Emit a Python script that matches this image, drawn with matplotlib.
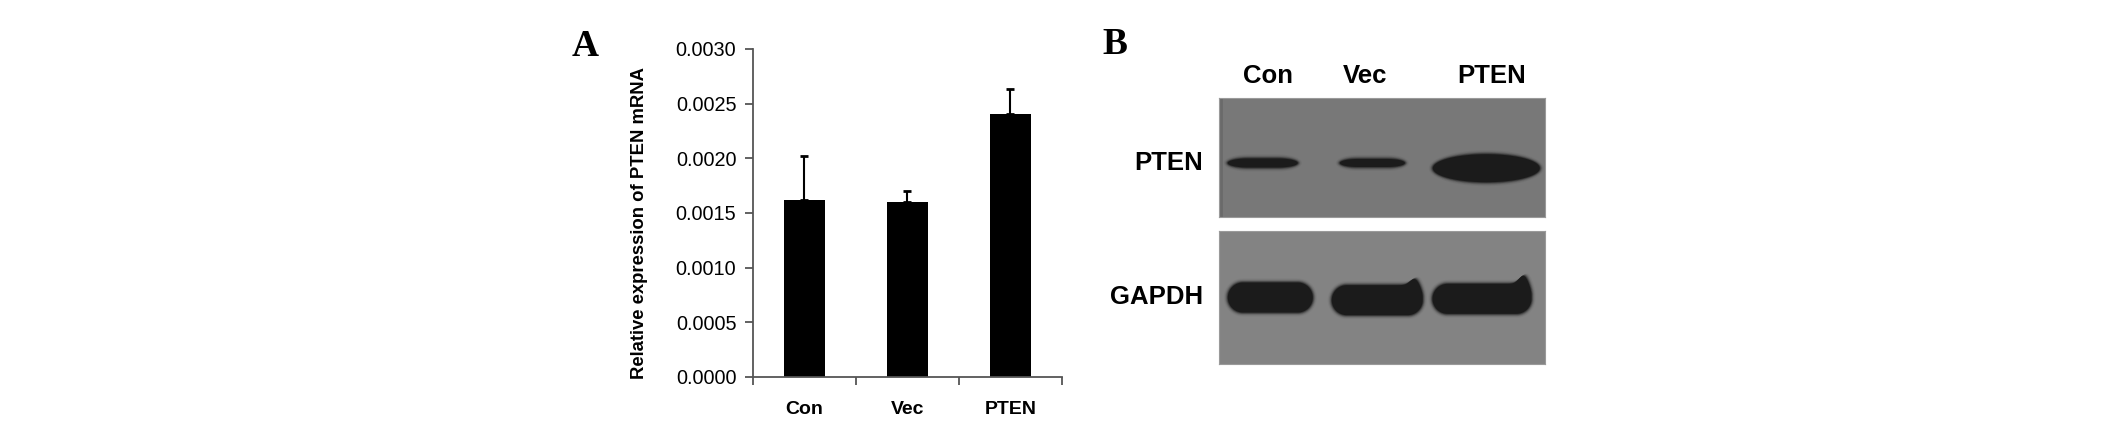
import numpy as np
import matplotlib.pyplot as plt
from matplotlib.patches import Polygon

# -------------------------------
# Data
# -------------------------------
groups = ["Con", "Vec", "PTEN"]
mrna_mean = [0.00162, 0.00160, 0.00241]
mrna_err = [0.00040, 0.00010, 0.00022]
yticks = [0.0, 0.0005, 0.0010, 0.0015, 0.0020, 0.0025, 0.0030]

blot_lanes = ["Con", "Vec", "PTEN"]
blot_rows = ["PTEN", "GAPDH"]
# band size per lane in pixels (width, height)
pten_band_w = [70, 65, 107]
pten_band_h = [9, 8, 28]
gapdh_band_w = [85, 91, 99]
gapdh_band_h = [30, 30, 30]
gapdh_tip = [0, 8, 10]

plt.rcParams['font.family'] = ['Liberation Sans', 'DejaVu Sans']

W, H = 2126, 429
fig = plt.figure(figsize=(W / 100, H / 100), dpi=100)


def fx(px):
    return px / W


def fy(py):
    return 1 - py / H


# -------------------------------
# Panel A: bar chart
# -------------------------------
ax = fig.add_axes([fx(753), fy(377), fx(1061.7 - 753), (377 - 49) / H])
x = np.arange(len(groups)) + 0.5
ax.bar(x, mrna_mean, width=0.4, color="black", zorder=2)
ax.errorbar(x, mrna_mean, yerr=[np.zeros(3), mrna_err], fmt="none",
            ecolor="black", elinewidth=1.5, capsize=3, capthick=2, zorder=1)

ax.set_xlim(0, 3)
ax.set_ylim(0, 0.003)
ax.set_yticks(yticks)
ax.set_yticklabels([f"{v:.4f}" for v in yticks], fontsize=14.3)
ax.set_xticks([0, 1, 2, 3])
ax.set_xticklabels([])
for xi, g in zip(x, groups):
    ax.text(xi, -0.1, g, transform=ax.get_xaxis_transform(), ha="center",
            va="center", fontsize=14, fontweight="bold")

for s in ["top", "right"]:
    ax.spines[s].set_visible(False)
for s in ["left", "bottom"]:
    ax.spines[s].set_color("#555555")
    ax.spines[s].set_linewidth(1.3)
ax.tick_params(axis="both", direction="out", length=6, width=1.3,
               color="#555555", pad=6)

fig.text(fx(639), fy(223), "Relative expression of PTEN mRNA", rotation=90,
         ha="center", va="center", fontsize=13.3, fontweight="bold")
fig.text(fx(585), fy(46), "A", ha="center", va="center", fontsize=27,
         fontweight="bold", family="Liberation Serif")

# -------------------------------
# Panel B: western blot
# -------------------------------
fig.text(fx(1115), fy(45), "B", ha="center", va="center", fontsize=27,
         fontweight="bold", family="Liberation Serif")

lane_px = 108.0
lane0 = 1266.0
xl = ((1219 - lane0) / lane_px, (1545 - lane0) / lane_px)

ax_top = fig.add_axes([fx(1219), fy(217), fx(326), (217 - 98) / H])
ax_bot = fig.add_axes([fx(1219), fy(364), fx(326), (364 - 231) / H])

bg_top, bg_bot = 120, 131
for a, g in [(ax_top, bg_top), (ax_bot, bg_bot)]:
    a.set_xlim(*xl)
    a.set_ylim(0, 1)
    a.set_facecolor(str(g / 255))
    a.set_xticks([])
    a.set_yticks([])
    for s in a.spines.values():
        s.set_color("#9a9a9a")
        s.set_linewidth(0.8)
ax_top.axvline(xl[0] + 2 / lane_px, color="#6a6a6a", lw=2)


def band_outline(wpx, hpx, rxpx, tip):
    # stadium-shaped outline in pixels, optional raised right end
    rx = min(rxpx, wpx / 2)
    ry = hpx / 2
    cr, cl = wpx / 2 - rx, -wpx / 2 + rx
    t = np.linspace(-np.pi / 2, np.pi / 2, 40)
    right = np.c_[cr + rx * np.cos(t), ry * np.sin(t)]
    xs = np.linspace(cr, cl, 60)
    top = np.c_[xs, np.full_like(xs, ry)]
    t2 = np.linspace(np.pi / 2, 3 * np.pi / 2, 40)
    left = np.c_[cl + rx * np.cos(t2), ry * np.sin(t2)]
    bottom = np.c_[xs[::-1], np.full_like(xs, -ry)]
    pts = np.vstack([right, top, left, bottom])
    if tip:
        up = pts[:, 1] > 0
        xt = wpx / 2 - 7
        pts[up, 1] += tip * np.exp(-((pts[up, 0] - xt) / 7.0) ** 2)
    return pts


def band(a, xc, yc, wpx, hpx, rxpx, axh, bg, tip=0, core=27):
    steps = [(8, 0.06), (6, 0.14), (4.5, 0.28), (3, 0.48), (1.5, 0.72), (0, 1.0)]
    for grow, mix in steps:
        g = bg - mix * (bg - core)
        pts = band_outline(wpx + grow, hpx + grow, rxpx + grow / 2, tip)
        verts = np.c_[xc + pts[:, 0] / lane_px, yc + pts[:, 1] / axh]
        a.add_patch(Polygon(verts, closed=True, fc=str(g / 255), ec="none"))


pten_shift = [-0.03, -0.015, 0.04]
pten_y = [0.454, 0.454, 0.41]
for i in range(len(blot_lanes)):
    band(ax_top, i + pten_shift[i], pten_y[i], pten_band_w[i],
         pten_band_h[i], max(2.2 * pten_band_h[i], 14), 119.0, bg_top)

gapdh_shift = [0.04, 0.03, 0.0]
gapdh_y = [0.50, 0.48, 0.49]
for i in range(len(blot_lanes)):
    band(ax_bot, i + gapdh_shift[i], gapdh_y[i], gapdh_band_w[i],
         gapdh_band_h[i], 15, 133.0, bg_bot, tip=gapdh_tip[i])

lane_label_shift = [0.02, -0.08, 0.09]
for i, lab in enumerate(blot_lanes):
    ax_top.text(i + lane_label_shift[i], 1.185, lab, ha="center", va="center",
                fontsize=18.5, fontweight="bold",
                transform=ax_top.get_xaxis_transform())

row_x = (1203 - lane0) / lane_px
ax_top.text(row_x, 0.454, blot_rows[0], ha="right", va="center",
            fontsize=18.5, fontweight="bold", clip_on=False)
ax_bot.text(row_x, 0.50, blot_rows[1], ha="right", va="center",
            fontsize=18.5, fontweight="bold", clip_on=False)

fig.savefig("out.png", dpi=100)
